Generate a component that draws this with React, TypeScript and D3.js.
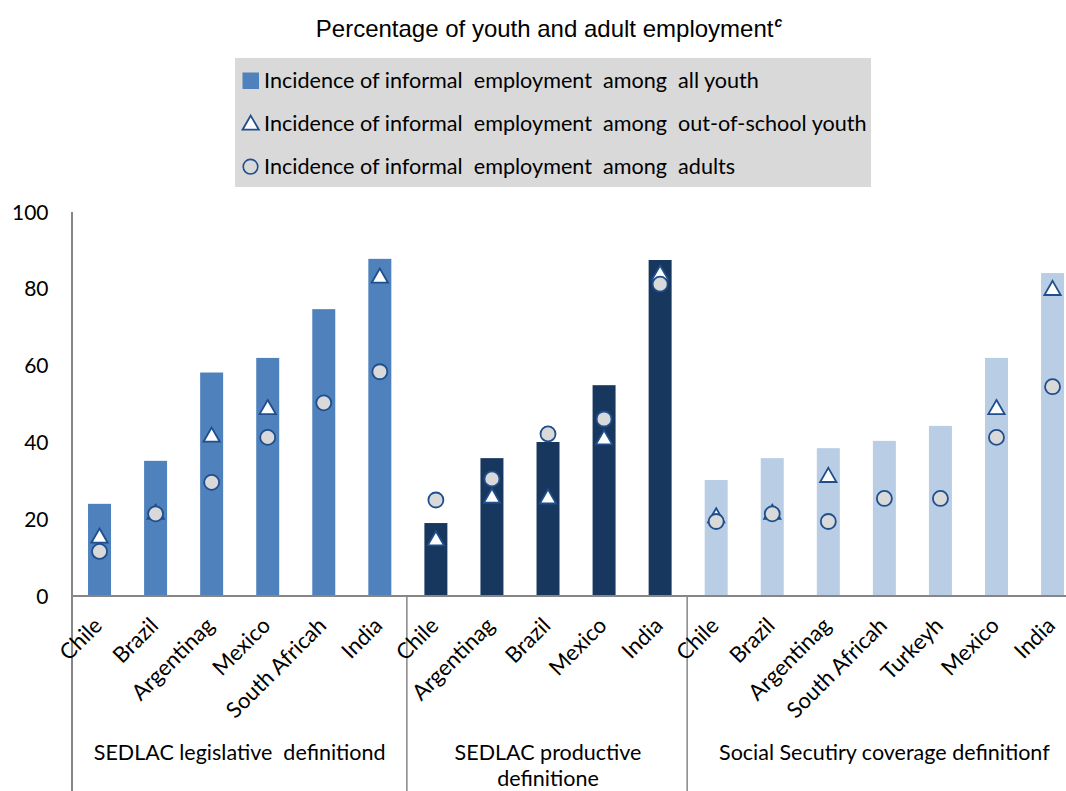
import React from "react";
import * as d3 from "d3";

const categories = [
  "Chile", "Brazil", "Argentinag", "Mexico", "South Africah", "India",
  "Chile", "Argentinag", "Brazil", "Mexico", "India",
  "Chile", "Brazil", "Argentinag", "South Africah", "Turkeyh", "Mexico", "India",
];
const groupNames = [
  ["SEDLAC legislative  definitiond"],
  ["SEDLAC productive", "definitione"],
  ["Social Secutiry coverage definitionf"],
];
const groupSizes = [6, 5, 7];
const allYouth = [24, 35.2, 58.2, 62, 74.7, 87.8, 19, 35.9, 40.1, 54.9, 87.5, 30.2, 35.9, 38.5, 40.4, 44.3, 62, 84.1];
const outOfSchool: (number | null)[] = [15.5, 21.7, 41.8, 49, null, 83.2, 14.8, 25.9, 25.7, 41.1, 84, 20.8, 21.7, 31.3, null, null, 49, 80];
const adults = [11.6, 21.4, 29.6, 41.3, 50.3, 58.4, 25, 30.5, 42.2, 46.1, 81.2, 19.4, 21.4, 19.4, 25.4, 25.4, 41.3, 54.5];
const yTicks = [0, 20, 40, 60, 80, 100];
const legendLabels = [
  "Incidence of informal  employment  among  all youth",
  "Incidence of informal  employment  among  out-of-school youth",
  "Incidence of informal  employment  among  adults",
];
const groupColors = ["#4F81BD", "#17375E", "#B9CDE5"];

const W = 1066;
const H = 791;
const FONT = "Lato, Calibri, 'Open Sans', sans-serif";
const MARK = "#1F4E8C";

export default function App() {
  const x = d3
    .scaleBand<number>()
    .domain(categories.map((_, i) => i))
    .range([71.5, 71.5 + 18 * 56.06])
    .paddingInner(0.59)
    .paddingOuter(0.295);
  const y = d3.scaleLinear().domain([0, 100]).range([596, 212]);
  const step = x.step();
  const x0 = 71.5;

  const groupOf: number[] = [];
  groupSizes.forEach((n, g) => {
    for (let i = 0; i < n; i++) groupOf.push(g);
  });
  const bounds: number[] = [0];
  groupSizes.forEach((n) => bounds.push(bounds[bounds.length - 1] + n));

  const cx = (i: number) => (x(i) as number) + x.bandwidth() / 2;
  const tri = d3.symbol(d3.symbolTriangle, 115)() as string;

  return (
    <svg width={W} height={H} style={{ position: "absolute", left: 0, top: 0, background: "#fff" }}>
      {/* title */}
      <text x={549} y={37} textAnchor="middle" fontFamily="'Liberation Sans', Arial, sans-serif" fontSize={24} fill="#000">
        Percentage of youth and adult employment
        <tspan dx={1} dy={-10} fontSize={14} fontStyle="italic" fontWeight="bold">c</tspan>
      </text>

      {/* legend */}
      <rect x={235} y={58} width={636} height={129} fill="#D9D9D9" />
      <rect x={242.5} y={72.5} width={16.5} height={16.5} fill={groupColors[0]} />
      <path d={tri} transform="translate(250.7,125)" fill="#fff" stroke={MARK} strokeWidth={1.8} />
      <circle cx={250.5} cy={166.7} r={7.3} fill="none" stroke={MARK} strokeWidth={1.6} />
      {legendLabels.map((t, i) => (
        <text key={i} x={264} y={88.3 + i * 42.9} fontFamily={FONT} fontSize={21.6} fill="#000" style={{ whiteSpace: "pre" }}>
          {t}
        </text>
      ))}

      {/* y ticks */}
      {yTicks.map((t) => (
        <text key={t} x={48.5} y={y(t)} dy="0.36em" textAnchor="end" fontFamily={FONT} fontSize={21} fill="#000">
          {t}
        </text>
      ))}

      {/* bars */}
      {allYouth.map((v, i) => (
        <rect key={i} x={x(i)} y={y(v)} width={x.bandwidth()} height={y(0) - y(v)} fill={groupColors[groupOf[i]]} />
      ))}

      {/* triangles */}
      {outOfSchool.map((v, i) =>
        v == null ? null : (
          <path key={i} d={tri} transform={`translate(${cx(i)},${y(v) + 1.5})`} fill="#fff" stroke={MARK} strokeWidth={1.8} />
        )
      )}

      {/* circles */}
      {adults.map((v, i) => (
        <circle key={i} cx={cx(i)} cy={y(v)} r={7.5} fill="#D9D9D9" stroke={MARK} strokeWidth={1.8} />
      ))}

      {/* axes */}
      <line x1={72} x2={72} y1={212} y2={H} stroke="#868686" strokeWidth={2} />
      <line x1={72} x2={W} y1={596} y2={596} stroke="#868686" strokeWidth={2} />
      {bounds.slice(1, -1).map((b) => (
        <line key={b} x1={x0 + b * step - 1} x2={x0 + b * step - 1} y1={596} y2={H} stroke="#868686" strokeWidth={1.5} />
      ))}

      {/* category labels */}
      {categories.map((c, i) => (
        <text
          key={i}
          transform={`translate(${cx(i) + 4},${627}) rotate(-45)`}
          textAnchor="end"
          fontFamily={FONT}
          fontSize={22}
          fill="#000"
        >
          {c}
        </text>
      ))}

      {/* group labels */}
      {groupNames.map((lines, g) => {
        const mid = x0 + ((bounds[g] + bounds[g + 1]) / 2) * step;
        return (
          <text key={g} x={mid} y={760} textAnchor="middle" fontFamily={FONT} fontSize={21.5} fill="#000" style={{ whiteSpace: "pre" }}>
            {lines.map((l, k) => (
              <tspan key={k} x={mid} dy={k === 0 ? 0 : 26}>
                {l}
              </tspan>
            ))}
          </text>
        );
      })}
    </svg>
  );
}
